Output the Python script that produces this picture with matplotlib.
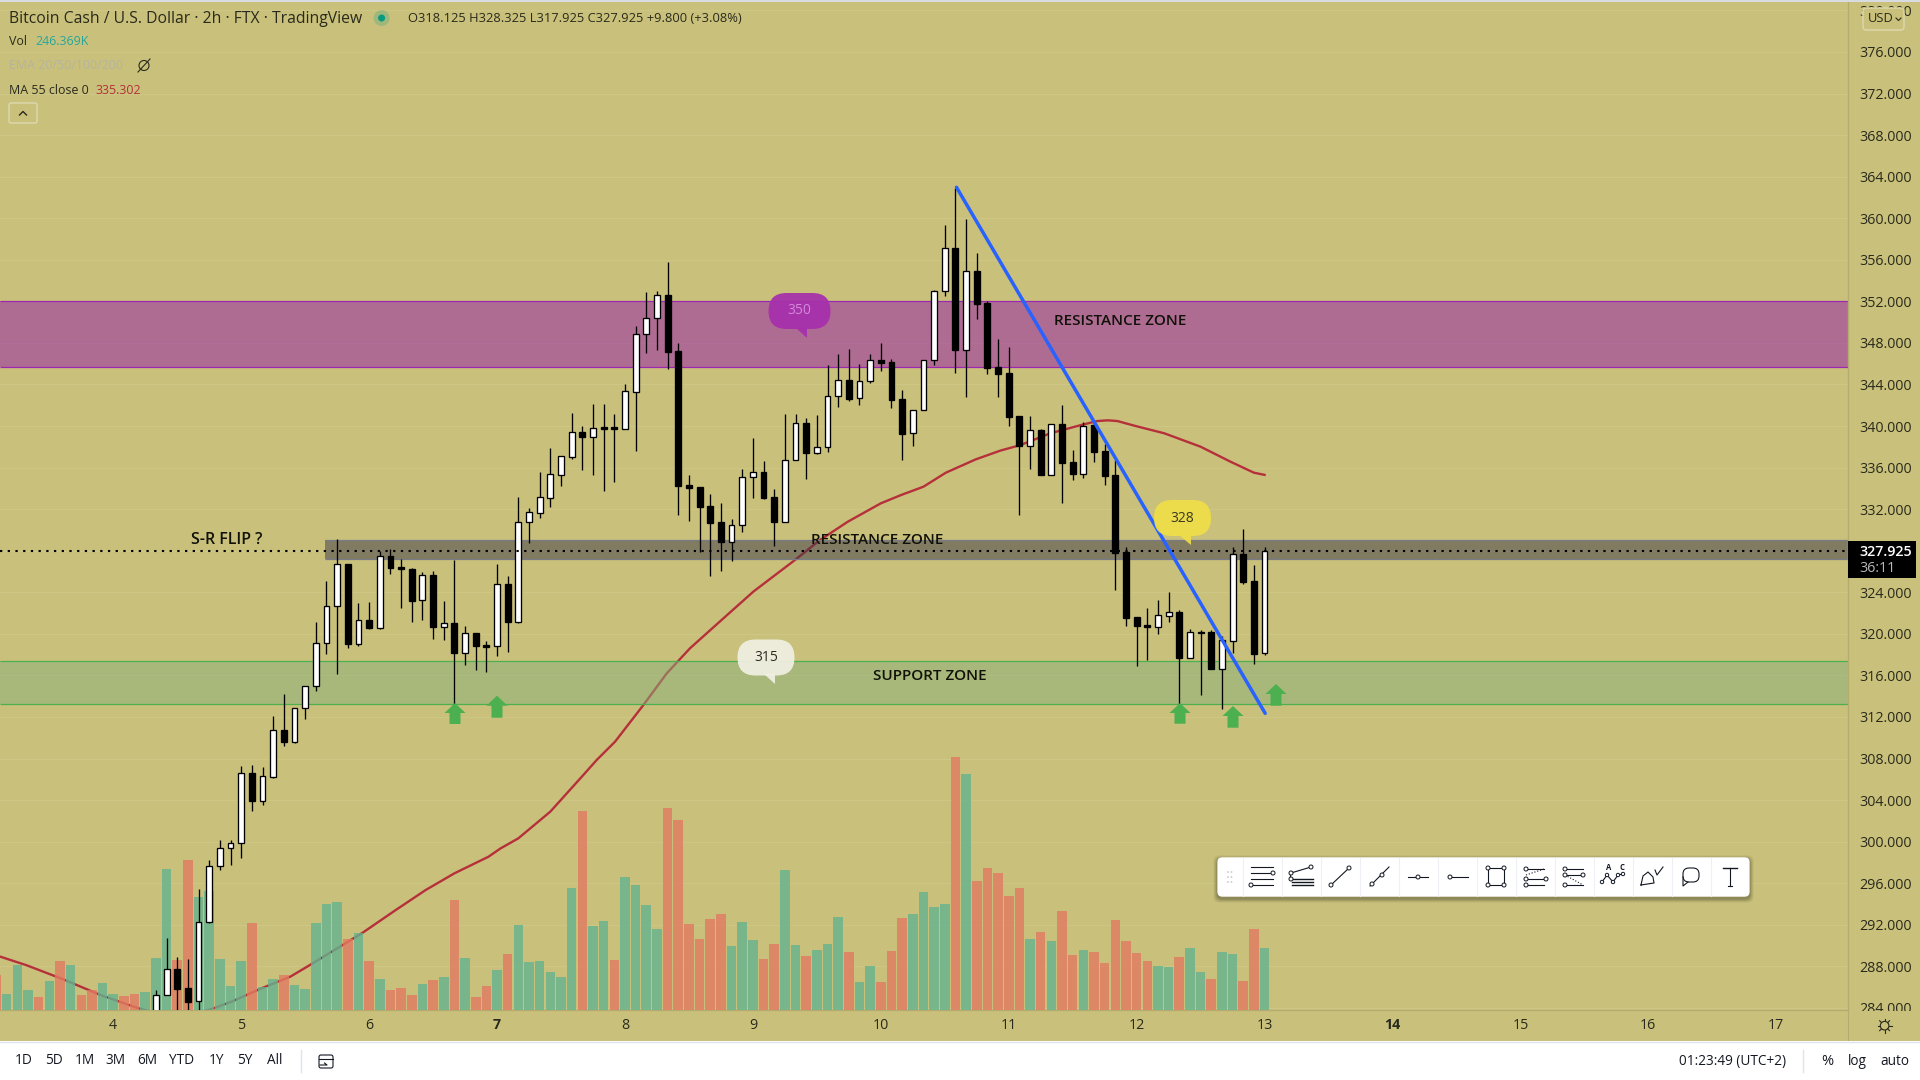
import numpy as np
import matplotlib
matplotlib.use("Agg")
import matplotlib.pyplot as plt
from matplotlib.patches import FancyBboxPatch, Polygon, Rectangle, Circle

plt.rcParams['font.family'] = ['Open Sans', 'DejaVu Sans']

first_candle = -8
opens = [283.4,285.21,287.71,285.88,284.63,292.30,297.69,299.42,299.90,306.57,303.94,306.25,310.71,309.62,312.83,314.95,319.09,322.65,326.69,319.05,321.30,320.59,327.46,326.40,326.21,323.22,325.63,320.69,321.01,318.19,320.05,318.89,318.80,324.76,321.17,
 330.79,331.66,333.10,335.32,337.05,339.39,338.97,339.87,339.87,339.75,343.30,348.82,350.36,352.58,347.19,334.29,334.10,332.27,330.73,328.87,330.44,335.06,335.54,333.14,330.79,336.70,340.26,337.43,337.95,342.86,344.40,342.66,344.30,346.32,346.13,342.57,339.30,
 341.51,346.32,352.96,357.10,347.35,354.89,351.84,345.65,345.07,340.93,338.11,339.59,335.32,340.16,336.50,335.41,340.07,337.56,335.25,
 327.88,321.59,320.82,320.69,321.75,322.07,317.71,320.21,320.15,316.65,319.35,327.66,325.06,318.125]
closes = [285.21,287.72,285.85,284.60,292.30,297.69,299.42,299.90,306.57,303.94,306.29,310.71,309.62,312.83,314.95,319.09,322.65,326.69,319.05,321.30,320.59,327.46,326.37,326.21,323.19,325.63,320.69,321.01,318.19,320.05,318.86,318.76,324.76,321.17,330.79,
 331.69,333.14,335.35,337.08,339.39,338.97,339.78,339.75,339.75,343.34,348.82,350.36,352.58,347.16,334.26,334.07,332.24,330.70,328.87,330.44,335.06,335.54,333.10,330.79,336.70,340.26,337.43,337.95,342.86,344.40,342.63,344.30,346.32,346.10,342.54,339.26,341.51,
 346.32,352.96,357.10,347.35,354.89,351.78,345.62,345.04,340.90,338.11,339.59,335.32,340.16,336.47,335.41,340.03,337.53,335.22,327.81,
 321.56,320.79,320.69,321.79,322.07,317.71,320.15,320.12,316.65,319.38,327.66,325.03,318.10,327.925]
highs = [285.72,290.70,288.87,288.67,295.41,298.23,300.16,300.16,307.28,307.38,307.18,312.09,314.21,312.83,314.95,321.14,325.08,329.13,326.69,322.97,323.06,327.97,328.13,327.20,326.30,325.95,326.05,323.16,327.11,320.75,320.05,319.31,326.72,325.57,333.2,
 332.08,335.54,337.85,337.08,341.25,339.97,342.12,342.12,341.16,344.04,349.59,352.87,352.96,355.79,347.96,335.29,334.10,333.42,332.56,331.05,335.86,338.81,336.63,333.94,341.16,341.16,340.77,341.06,345.87,346.93,347.41,345.97,346.93,347.99,346.45,343.47,341.51,
 346.32,353.09,359.35,362.88,359.89,356.62,352.00,348.34,347.57,340.93,340.97,339.71,340.16,342.02,337.69,340.36,340.39,338.27,336.73,
 328.33,321.59,322.49,323.26,324.03,322.30,320.47,320.37,320.37,319.83,328.33,330.06,326.63,328.325]
lows = [283.2,285.2,283.7,283.5,283.5,292.20,297.27,297.75,298.43,302.95,303.53,306.16,309.21,309.49,311.80,314.50,318.06,316.13,318.64,318.83,320.46,320.46,325.76,322.49,321.14,321.33,319.50,319.41,312.57,317.00,316.52,316.33,317.87,318.25,321.07,
 328.77,331.18,332.24,334.23,336.79,335.77,335.29,333.78,334.61,339.75,337.60,347.06,347.32,345.52,331.44,330.89,327.91,325.57,326.05,327.01,329.80,333.07,332.98,328.45,330.79,336.70,334.90,337.34,337.50,341.83,342.41,342.02,344.14,345.29,341.73,336.73,338.08,
 341.51,345.87,352.51,345.14,342.79,350.30,345.01,342.79,340.00,331.44,335.86,335.32,335.32,332.59,334.81,335.03,336.54,334.32,324.22,
 320.76,316.91,317.49,319.99,321.14,312.87,317.71,314.12,316.65,312.77,318.16,324.80,317.10,317.925]

first_volume = -23
volumes = [138,62,178,78,50,114,194,178,58,78,106,62,54,62,70,206,564,198,600,451,475,202,94,194,347,90,122,138,98,82,347,423,431,283,307,194,122,78,86,58,102,118,130,439,206,50,94,158,222,339,190,194,150,130,487,797,335,355,198,532,499,419,323,809,761,343,283,363,383,254,351,279,202,262,560,258,214,238,262,371,230,110,174,110,234,367,383,471,411,423,1014,945,516,568,548,455,487,283,311,274,395,218,238,230,186,359,274,226,194,174,170,210,246,150,122,230,222,114,323,246]
volume_side = ("rgggrgrgrr" "ggrrgggrrg" "ggggrggrgg" "gggrgrgrrr" "grgrgrrgrg" "gggggrggrg"
               "gggrrrrrrg" "ggrrggrggg" "rggrrrgggg" "rgrrrrrgrg" "rrgrrrrrrg" "grggrggrrg")

ma_bar = [-22.6,-20.1,-16.7,-13.2,-9.6,-6,-2.7,-0.9,1.9,4.6,6.6,9,11.3,14.5,17.3,20,23.2,24.3,26,29,32.1,33.35,35.07,37.73,39.92,42.1,45.07,48.04,51.95,54.3,56.9,60,61.9,64,66.1,68.9,71.2,73.1,75.9,78.8,80.3,81.3,82.2,83.8,86.6,90,92.8,95,96]
ma_val = [288.93,288.09,286.75,285.24,283.95,283.0,283.92,284.6,285.88,287.0,288.22,289.73,291.17,293.42,295.34,296.95,298.55,299.33,300.32,302.89,306.42,307.86,309.62,313.15,316.2,318.61,321.34,324.06,327.11,329.03,330.79,332.56,333.36,334.16,335.51,336.79,337.63,338.17,339.30,340.10,340.48,340.55,340.48,340.03,339.3,338.01,336.57,335.51,335.30]

trend_bar = [67.1, 96.06]
trend_val = [362.98, 312.35]
purple_zone = (345.65, 352.03)
gray_zone = (327.23, 329.03)
gray_start = 7.9
green_zone = (313.22, 317.36)
last_price = 327.925
price_ticks = list(range(284, 384, 4))
day_ticks = [4,5,6,7,8,9,10,11,12,13,14,15,16,17]
bold_days = [7,14]
ranges = ["1D","5D","1M","3M","6M","YTD","1Y","5Y","All"]

BG = "#c9c17b"; INK = "#2a2a1c"
W, H = 1920, 1080
AXR, AXB = 1848, 1009.5
BARPX = 10.66; X0 = 241.2
PXU = 10.39

fig = plt.figure(figsize=(19.2,10.8), dpi=100, facecolor=BG)
pos = [0, 1-AXB/H, AXR/W, AXB/H]
xlim = (-X0/BARPX, (AXR-X0)/BARPX)
ylim = (376-(AXB-52)/PXU, 376+52/PXU)

ax = fig.add_axes(pos, zorder=1, facecolor=BG)
ax.set_xlim(*xlim); ax.set_ylim(*ylim)
for s in ['top','left']: ax.spines[s].set_visible(False)
for s in ['right','bottom']:
    ax.spines[s].set_color('#b3ac6c'); ax.spines[s].set_linewidth(1)
ax.yaxis.tick_right()
ax.set_yticks(price_ticks)
ax.set_yticklabels([f"{p:.3f}" for p in price_ticks], fontsize=10.3, color=INK)
ax.tick_params(axis='y', length=0, pad=8)
ax.set_xticks([12*(d-5) for d in day_ticks])
ax.set_xticklabels([str(d) for d in day_ticks], fontsize=10.3, color=INK)
for t, d in zip(ax.get_xticklabels(), day_ticks):
    if d in bold_days: t.set_fontweight('bold')
ax.tick_params(axis='x', length=0, pad=6)
ax.grid(axis='y', color='#cfc786', lw=0.7)
ax.set_axisbelow(True)

ax.plot(ma_bar, ma_val, color='#b5303a', lw=1.7, zorder=1.5)
def zone(lo_, hi_, start, fill, edge):
    ax.fill_between([start, xlim[1]], lo_, hi_, fc=fill, alpha=0.5, ec='none', zorder=2)
    ax.hlines([lo_, hi_], start, xlim[1], color=edge, lw=0.9, zorder=2.1)
zone(*purple_zone, xlim[0], '#9718ac', '#9c27b0')
zone(*green_zone, xlim[0], '#89b07c', '#4caf50')
zone(*gray_zone, gray_start, '#3b364a', '#787b86')

vax = fig.add_axes(pos, zorder=2, sharex=ax)
vax.axis('off'); vax.patch.set_visible(False)
vax.set_ylim(0, AXB*4.017)
vx = np.arange(first_volume, first_volume+len(volumes))
cols = ['#64b290' if c == 'g' else '#e27a61' for c in volume_side]
vax.bar(vx, volumes, width=0.9, color=cols, alpha=0.8, lw=0)

cax = fig.add_axes(pos, zorder=3, sharex=ax, sharey=ax)
cax.axis('off'); cax.patch.set_visible(False)
cx = np.arange(first_candle, first_candle+len(opens))
o, c, hi, lo = map(np.array, (opens, closes, highs, lows))
cax.vlines(cx, lo, hi, color='black', lw=0.95, zorder=3)
up = c >= o
cax.bar(cx, np.abs(c-o), bottom=np.minimum(o,c), width=0.55,
        color=['white' if u else 'black' for u in up], edgecolor='black', lw=0.95, zorder=4)
cax.plot(xlim, [last_price]*2, color='black', lw=1.5, dashes=(1.1,2.6), zorder=5)
cax.plot(trend_bar, trend_val, color='#2962ff', lw=2.5, zorder=6, solid_capstyle='round')

ov = fig.add_axes([0,0,1,1], zorder=10)
ov.set_xlim(0,W); ov.set_ylim(H,0); ov.axis('off'); ov.patch.set_visible(False)

def txt(x,y,s,size=10,color=INK,ha='left',va='center',weight='normal',**k):
    return ov.text(x,y,s,fontsize=size,color=color,ha=ha,va=va,fontweight=weight,**k)

# covers
ov.add_patch(Rectangle((AXR+1,AXB+1),W-AXR,1041-AXB,fc=BG,ec='none',zorder=1))
ov.plot([AXR,AXR],[AXB,1041],color='#b3ac6c',lw=0.8,zorder=2)
ov.add_patch(Rectangle((0,1041),W,40,fc='white',ec='none',zorder=3))
ov.plot([0,W],[1041.5,1041.5],color='#e0e3eb',lw=1,zorder=4)
ov.add_patch(Rectangle((0,0),W,1.5,fc='#d8dbe0',ec='none',zorder=3))

# header
txt(9,19,"Bitcoin Cash / U.S. Dollar · 2h · FTX · TradingView",11.3)
ov.add_patch(Circle((381.6,18),8,fc='#089981',alpha=0.22,ec='none'))
ov.add_patch(Circle((381.6,18),3.5,fc='#089981',ec='none'))
txt(408,19,"O318.125 H328.325 L317.925 C327.925 +9.800 (+3.08%)",9.3)
txt(9,41.5,"Vol",8.9); txt(35,41.5,"246.369K",8.9,color='#26a69a')
txt(9,65.5,"EMA 20/50/100/200",8.9,color='#b5b3a0')
ov.add_patch(Circle((144,65.5),5,fc='none',ec='#2a2a1c',lw=0.8))
ov.plot([138,150],[72,59],color='#2a2a1c',lw=0.8)
txt(9,90,"MA 55 close 0",8.9); txt(96,90,"335.302",8.9,color='#b5303a')
ov.add_patch(FancyBboxPatch((9,103),28,20,boxstyle="round,pad=0,rounding_size=2",fc=BG,ec='#dcd8ae',lw=1))
ov.plot([19.5,23,26.5],[115,111.5,115],color=INK,lw=1)

# zone labels
for x,y,s,sz in [(227,540,"S-R FLIP ?",11.5),(1120.6,321,"RESISTANCE ZONE",11),(877,540,"RESISTANCE ZONE",11),(930,676,"SUPPORT ZONE",11)]:
    txt(x,y,s,sz,color='#111108',ha='center',weight='semibold')

# bubbles
def bubble(cx_,cy_,w,h,fc,label,tc,tail):
    ov.add_patch(FancyBboxPatch((cx_-w/2,cy_-h/2),w,h,boxstyle=f"round,pad=0,rounding_size={h/2}",fc=fc,ec='none',alpha=0.92,zorder=5))
    ov.add_patch(Polygon(tail,closed=True,fc=fc,ec='none',alpha=0.92,zorder=5))
    txt(cx_,cy_,label,10,color=tc,ha='center',zorder=6)
bubble(799.5,311,62,36,'#a62fab',"350",'#d488da',[(796,328),(807,328),(807,338)])
bubble(1182.5,518,57,36,'#f0de47',"328",'#3a3a20',[(1179,535),(1191,535),(1191,545)])
bubble(766,657.5,57,36,'#f1f0e4',"315",'#2a2a20',[(764,674),(775,674),(775,684)])

# green arrows
for x,tip,bot in [(455,703,724),(497,695.7,717.7),(1180,703,723.7),(1233,706,727.7),(1276,684,705.7)]:
    m = tip+10
    ov.add_patch(Polygon([(x,tip),(x+10.5,m),(x+5.5,m),(x+5.5,bot),(x-5.5,bot),(x-5.5,m),(x-10.5,m)],closed=True,fc='#4caf50',ec='none',zorder=5))

# price tag
ov.add_patch(Rectangle((AXR,541),68,37,fc='black',ec='none',zorder=5))
txt(1859,552,f"{last_price:.3f}",10.3,color='white',weight='semibold',zorder=6)
txt(1859,568,"36:11",10.3,color='#b8b8b8',zorder=6)
# usd button
ov.add_patch(FancyBboxPatch((1863,8),41,22,boxstyle="round,pad=0,rounding_size=3",fc=BG,ec='#dcd8ae',lw=1,zorder=5))
txt(1868,19,"USD",9.3,zorder=6)
ov.plot([1896,1898.5,1901],[18,20.5,18],color=INK,lw=0.8,zorder=6)
# gear
gx,gy = 1884.6,1025.7
ov.add_patch(Circle((gx,gy),4.3,fc='none',ec=INK,lw=0.8,zorder=6))
for a in np.deg2rad(np.arange(0,360,45)):
    ov.plot([gx+4.3*np.cos(a),gx+7*np.cos(a)],[gy+4.3*np.sin(a),gy+7*np.sin(a)],color=INK,lw=0.8,zorder=6)

# bottom bar
for x,s in zip([24,54,85,116,147,182,216,245,275],ranges):
    txt(x,1061,s,9.8,color='#131722',ha='center',zorder=6)
ov.plot([300.5,300.5],[1050,1072],color='#e0e3eb',lw=1,zorder=6)
ov.add_patch(FancyBboxPatch((319,1055),14,13,boxstyle="round,pad=0,rounding_size=2",fc='white',ec='#131722',lw=0.8,zorder=6))
ov.plot([319,333],[1059,1059],color='#131722',lw=0.8,zorder=6)
ov.plot([320,327,324.5],[1065,1065,1063],color='#131722',lw=0.8,zorder=7)
txt(1732.6,1061.5,"01:23:49 (UTC+2)",9.8,color='#131722',ha='center',zorder=6)
ov.plot([1803,1803],[1050,1072],color='#e0e3eb',lw=1,zorder=6)
txt(1827,1061.5,"%",10.5,color='#131722',ha='center',zorder=6)
txt(1857.5,1061.5,"log",9.8,color='#131722',ha='center',zorder=6)
txt(1894.7,1061.5,"auto",9.8,color='#131722',ha='center',zorder=6)

# toolbar
for off,a in [(4,0.05),(3,0.07),(2,0.09),(1,0.11)]:
    ov.add_patch(FancyBboxPatch((1217.4-off,857.3-off+2),532.2+2*off,39.4+2*off,boxstyle="round,pad=0,rounding_size=6",fc='black',alpha=a,ec='none',zorder=6))
ov.add_patch(FancyBboxPatch((1217.4,857.3),532.2,39.4,boxstyle="round,pad=0,rounding_size=5",fc='white',ec='none',zorder=7))
Z=8; IC='#131722'
def L(xs,ys,lw=0.8,**k): ov.plot(xs,ys,color=IC,lw=lw,zorder=Z,**k)
def D(x,y,r=2.0): ov.add_patch(Circle((x,y),r,fc='white',ec=IC,lw=0.7,zorder=Z+1))
cy=877
for i in range(13):
    ov.plot([1242.7+39*i]*2,[858,896],color='#eef0f5',lw=0.8,zorder=Z)
for dx in (-2.5,1):
    for dy in (-5,0,5):
        ov.add_patch(Circle((1230.5+dx,cy+dy),0.9,fc='#c6c8cf',ec='none',zorder=Z))
c=1262
for dy in (-10,-4,2,8): L([c-11,c+11],[cy+dy,cy+dy])
D(c+11,cy-4); D(c-11,cy+8)
c=1301
for dy in (2,5,8): L([c-9,c+12],[cy+dy,cy+dy],lw=1)
L([c-10,c+10],[cy-4,cy-10]); L([c-11,c-11],[cy-4,cy+2]); D(c-10,cy-4); D(c+10,cy-10); D(c-10,cy+2)
c=1340
L([c-9,c+9],[cy+8,cy-9]); D(c-9,cy+8); D(c+9,cy-9)
c=1379
L([c-9,c+10],[cy+9,cy-10]); D(c-7,cy+7); D(c+3,cy-2)
c=1418
L([c-10,c+10],[cy,cy]); D(c,cy)
c=1457
L([c-7,c+11],[cy,cy]); D(c-7,cy)
c=1496
ov.add_patch(Rectangle((c-8,cy-9),16,17,fc='none',ec=IC,lw=0.8,zorder=Z))
for a,b in [(-8,-9),(8,-9),(-8,8),(8,8)]: D(c+a,cy+b)
c=1535
for dy in (-8,8): L([c-9,c+9],[cy+dy,cy+dy])
L([c-9,c+11],[cy+2,cy+2]); L([c-9,c+9],[cy-2,cy-8],ls=':'); D(c-9,cy-8); D(c-9,cy+2); D(c+11,cy+2); D(c-9,cy+8)
c=1574
for dy in (-8,8): L([c-9,c+9],[cy+dy,cy+dy])
L([c-9,c+9],[cy-2,cy-2]); L([c-9,c+9],[cy-2,cy+8],ls=':'); D(c-9,cy-8); D(c-9,cy-2); D(c+9,cy-2); D(c-9,cy+8)
c=1613
xs=[c-11,c-6,c+0,c+5,c+10]; ys=[cy+5,cy-2,cy+5,cy-2,cy-3]
L(xs,ys)
for a,b in zip(xs,ys): D(a,b,1.7)
txt(c-4,cy-10,"A",5.5,color=IC,ha='center',weight='bold',zorder=Z)
txt(c+9,cy-10,"C",5.5,color=IC,ha='center',weight='bold',zorder=Z)
c=1652
L([c-11,c-9,c-4,c+1,c+2,c-11],[cy+8,cy-1,cy-5,cy,cy+6,cy+8])
L([c+3,c+5,c+11],[cy-7,cy-2,cy-10])
c=1691
ov.add_patch(FancyBboxPatch((c-8,cy-9),16,14,boxstyle="round,pad=0,rounding_size=6",fc='none',ec=IC,lw=0.8,zorder=Z))
L([c-8,c-8,c-3],[cy,cy+9,cy+5])
c=1730
L([c-7,c+7],[cy-9,cy-9],lw=1); L([c,c],[cy-9,cy+9]); L([c-2,c+2],[cy+9,cy+9])

fig.savefig("out.png", dpi=100, facecolor=BG)
